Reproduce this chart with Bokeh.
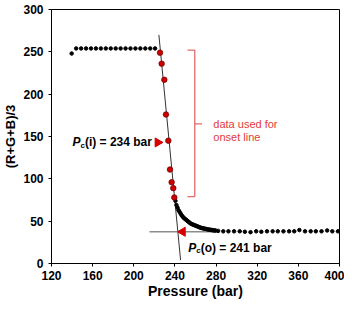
from bokeh.plotting import figure
from bokeh.models import FixedTicker, Range1d
from bokeh.core.properties import value
from bokeh.embed import file_html
from bokeh.resources import INLINE
import math

# ---- data ----
plateau_p = [139.6, 144.0, 148.8, 153.6, 158.4, 163.2, 168.0, 172.8, 177.6, 182.4,
             187.2, 192.0, 196.8, 201.6, 206.4, 211.2, 216.0, 220.7]
plateau_v = [248, 254, 254, 254, 254, 254, 254, 254, 254, 254,
             254, 254, 254, 254, 254, 254, 254, 254]

onset_p = [225.5, 227.1, 229.7, 231.3, 233.6, 235.2, 236.8, 238.4, 239.4]
onset_v = [249, 236, 217, 176, 145, 111, 96, 89, 78]

decay_p = [240.5, 241.5, 242.5, 243.5, 244.5, 245.5, 246.5, 247.5, 248.5, 249.5,
           250.5, 251.5, 252.5, 253.5, 254.5, 255.5, 256.5, 257.5, 258.5, 259.5,
           260.5, 261.5, 262.5, 263.5, 264.5, 265.5, 266.5, 267.5, 268.5, 269.5,
           270.5, 271.5, 272.5, 273.5, 274.5, 275.5, 276.5, 277.5, 278.5, 279.5]
decay_v = [74, 69, 66, 63, 61, 59, 57, 55.5, 54, 53,
           52, 51, 50, 49, 48, 47, 46.5, 46, 45.5, 45,
           44.5, 44, 43.5, 43, 42.5, 42, 41.8, 41.5, 41.2, 41,
           40.7, 40.4, 40.2, 40, 39.8, 39.6, 39.4, 39.2, 39, 39]

tail_p = [282, 287, 292, 297.5, 303, 308, 313.5, 319, 324, 329.5, 335, 340,
          345.5, 351, 356, 361, 366.5, 372, 377, 382.5, 388, 393, 398.5]
tail_v = [38.5, 38, 38, 38, 38, 37.5, 37, 38, 37.5, 38, 38, 38,
          38, 38, 38, 39.5, 38, 38, 38, 38, 39, 38, 38]

fit_p = [224.4, 245.5]
fit_v = [270, 4]
base_p = [215.3, 281.9]
base_v = [37.5, 37.5]

arrow_p = [223.3, 247.5]
arrow_v = [143, 37.5]
arrow_angle = [-math.pi / 2, math.pi / 2]

bracket_p = [252.2, 259.3, 259.3, 252.2]
bracket_v = [252, 252, 79, 79]
bracket_mid_p = [259.3, 266.3]
bracket_mid_v = [165, 165]

note_lines = ["data used for", "onset line"]
note_p = [277.3, 277.3]
note_v = [165, 150]

x_ticks = [120, 160, 200, 240, 280, 320, 360, 400]
y_ticks = [0, 50, 100, 150, 200, 250, 300]

FONT = "Liberation Sans"

p = figure(width=344, height=301, output_backend="svg", toolbar_location=None,
           x_range=Range1d(120, 400), y_range=Range1d(0, 300),
           min_border_left=49, min_border_right=5, min_border_top=9,
           min_border_bottom=36)

p.xgrid.visible = False
p.ygrid.visible = False
p.outline_line_color = "black"
p.outline_line_width = 1
p.background_fill_color = "white"
p.border_fill_color = "white"

for ax in (p.xaxis[0], p.yaxis[0]):
    ax.axis_line_color = "black"
    ax.major_tick_line_color = "black"
    ax.minor_tick_line_color = None
    ax.major_tick_in = 0
    ax.major_tick_out = 3
    ax.major_label_text_font = FONT
    ax.major_label_text_font_style = "bold"
    ax.major_label_text_font_size = "12px"
    ax.major_label_text_color = "black"
    ax.axis_label_text_font = FONT
    ax.axis_label_text_font_style = "bold"
    ax.axis_label_text_color = "black"

p.xaxis.ticker = FixedTicker(ticks=x_ticks)
p.yaxis.ticker = FixedTicker(ticks=y_ticks)
p.xaxis.axis_label = "Pressure (bar)"
p.xaxis.axis_label_text_font_size = "14px"
p.xaxis.major_label_standoff = 4
p.xaxis.axis_label_standoff = 0
p.yaxis.axis_label = "(R+G+B)/3"
p.yaxis.axis_label_text_font_size = "13px"
p.yaxis.major_label_standoff = 5
p.yaxis.axis_label_standoff = 2

# lines
p.line(fit_p, fit_v, line_color="#333333", line_width=1)
p.line(base_p, base_v, line_color="#8c8c8c", line_width=1.3)

# points
p.scatter(plateau_p, plateau_v, size=3.5, color="black")
p.scatter(decay_p, decay_v, size=3.5, color="black")
p.scatter(tail_p, tail_v, size=3.5, color="black")
p.scatter(onset_p, onset_v, size=5.5, fill_color="#cc0000", line_color="#7a0000", line_width=0.8)

# arrows
p.scatter(arrow_p, arrow_v, marker="triangle", angle=arrow_angle, size=9,
          fill_color="#d40000", line_color="#d40000")

# bracket
p.line(bracket_p, bracket_v, line_color="#e06a6a", line_width=1.3)
p.line(bracket_mid_p, bracket_mid_v, line_color="#e06a6a", line_width=1.3)
p.text(note_p, note_v, text=note_lines, text_font=value(FONT), text_font_size="11px",
       text_color="#e23a3a", text_baseline="middle", text_align="left")

# Pc labels: italic P, subscript c, rest bold
lab_p = [140.3, 252.9]
lab_v = [143, 18.8]
p.text(lab_p, lab_v, text=["P", "P"], text_font=value(FONT), text_font_size="12px",
       text_font_style="bold italic", text_color="black", text_baseline="middle")
p.text(lab_p, lab_v, text=["c", "c"], x_offset=8, y_offset=3, text_font=value(FONT),
       text_font_size="8px", text_font_style="bold", text_color="black",
       text_baseline="middle")
p.text(lab_p, lab_v, text=["(i) = 234 bar", "(o) = 241 bar"], x_offset=12.5,
       text_font=value(FONT), text_font_size="12px", text_font_style="bold",
       text_color="black", text_baseline="middle")

open("out.html", "w").write(file_html(p, INLINE))
